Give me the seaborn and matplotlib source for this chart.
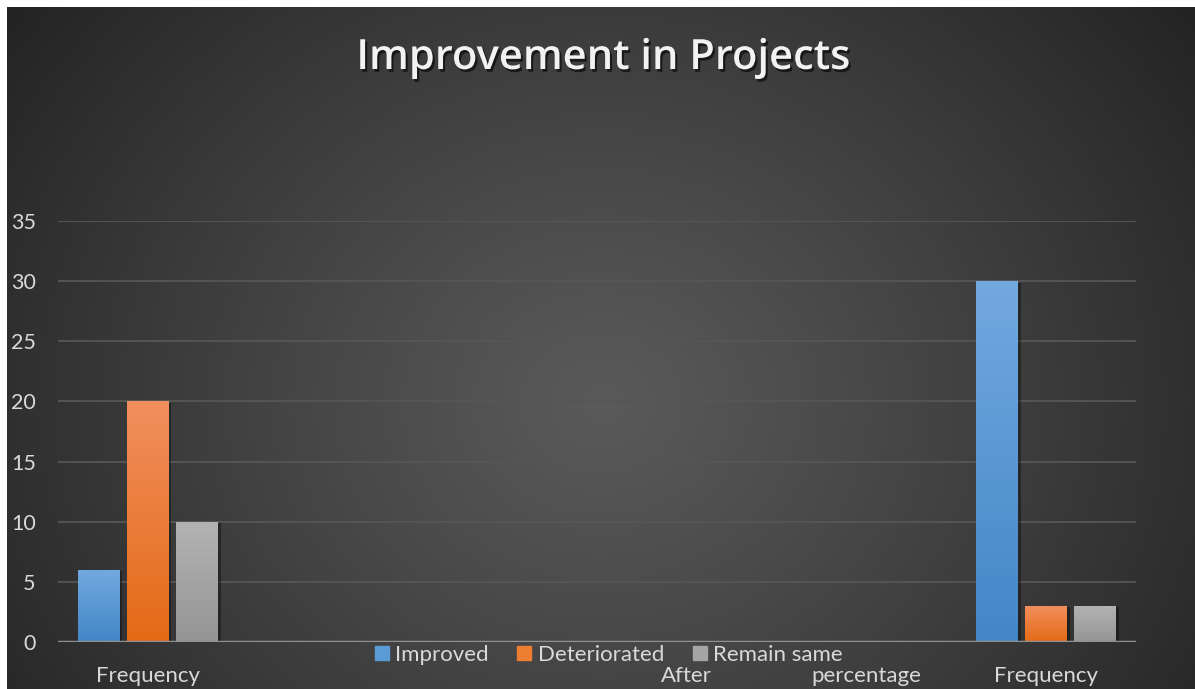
import numpy as np
import pandas as pd
import matplotlib
matplotlib.use("Agg")
import matplotlib.pyplot as plt
import seaborn as sns
from matplotlib import patheffects as pe
from matplotlib.lines import Line2D
from matplotlib.colors import LinearSegmentedColormap

# ---- data ----
tick_labels = ["Frequency", "", "", "After", "percentage", "Frequency"]
series_names = ["Improved", "Deteriorated", "Remain same"]
improved = [6, 0, 0, 0, 0, 30]
deteriorated = [20, 0, 0, 0, 0, 3]
remain_same = [10, 0, 0, 0, 0, 3]
y_ticks = [0, 5, 10, 15, 20, 25, 30, 35]
title = "Improvement in Projects"

top_colors = ["#72a9df", "#f18f5e", "#b3b3b3"]
bottom_colors = ["#4386c8", "#e46a16", "#959595"]
legend_colors = ["#5b9bd5", "#ed7d31", "#a5a5a5"]

rows = []
for name, vals in zip(series_names, [improved, deteriorated, remain_same]):
    for i, v in enumerate(vals):
        rows.append({"cat": i, "series": name, "value": v})
df = pd.DataFrame(rows)

W, H = 1195, 689
fig = plt.figure(figsize=(W / 100, H / 100), dpi=100, facecolor="white")

# background radial gradient
bg = fig.add_axes([7 / W, 0, 1 - 7 / W, 1 - 7 / H])
bg.set_axis_off()
ny, nx = 341, 594
yy, xx = np.mgrid[0:ny, 0:nx]
cx, cy = nx * 0.5, ny * 0.58
r = np.sqrt(((xx - cx) / (nx * 0.62)) ** 2 + ((yy - cy) / (ny * 0.95)) ** 2)
r = np.clip(r, 0, 1)
val = (90 - (90 - 36) * r ** 1.1) / 255.0
img = np.dstack([val, val, val])
bg.imshow(img, aspect="auto", extent=[0, 1, 0, 1], origin="upper")
bg.set_xlim(0, 1)
bg.set_ylim(0, 1)

ax = fig.add_axes([58 / W, 47 / H, 1078 / W, 421 / H])
ax.patch.set_alpha(0)

sns.barplot(data=df, x="cat", y="value", hue="series", hue_order=series_names,
            palette=legend_colors, width=0.82, gap=0.15, saturation=1,
            legend=False, ax=ax, zorder=3)

for cont, ct, cb in zip(ax.containers, top_colors, bottom_colors):
    cmap = LinearSegmentedColormap.from_list("g", [cb, ct])
    for patch in cont.patches:
        h = patch.get_height()
        if h <= 0:
            patch.set_visible(False)
            continue
        x0 = patch.get_x()
        w = patch.get_width()
        patch.set_path_effects([pe.SimplePatchShadow(offset=(2, -1), alpha=0.35,
                                                     shadow_rgbFace="black"), pe.Normal()])
        grad = np.linspace(1, 0, 100).reshape(-1, 1)
        im = ax.imshow(grad, extent=[x0, x0 + w, 0, h], aspect="auto",
                       cmap=cmap, vmin=0, vmax=1, zorder=3.5, origin="upper")
        im.set_clip_path(patch)

ax.set_xlim(-0.5, 5.5)
ax.set_ylim(0, 35)
ax.set_aspect("auto")
ax.set_yticks(y_ticks)
ax.set_xticks(range(len(tick_labels)))
ax.set_xticklabels(tick_labels)
ax.set_xlabel("")
ax.set_ylabel("")
for s in ax.spines.values():
    s.set_visible(False)
ax.yaxis.grid(True, color="#565656", linewidth=1.3, zorder=0)
ax.set_axisbelow(True)
ax.axhline(0, color="#909090", linewidth=2.5, zorder=5)
ax.tick_params(axis="both", length=0, colors="#d9d9d9")
ax.tick_params(axis="y", pad=16, labelsize=15.5)
ax.tick_params(axis="x", pad=17, labelsize=16)
for t in ax.get_xticklabels() + ax.get_yticklabels():
    t.set_family("Lato")

handles = [Line2D([], [], marker="s", linestyle="", markersize=10, color=c)
           for c in legend_colors]
leg = fig.legend(handles, series_names, loc="center", bbox_to_anchor=(609 / W, 1 - 655 / H),
                 ncol=3, frameon=False, handlelength=0.6, handletextpad=0.3,
                 columnspacing=1.3, prop={"family": "Lato", "size": 16},
                 labelcolor="#d9d9d9")

fig.text(603 / W, 1 - 58 / H, title, ha="center", va="center", fontsize=30,
         fontweight="semibold", color="#f2f2f2", family="Open Sans",
         path_effects=[pe.SimplePatchShadow(offset=(1.5, -2), alpha=0.6,
                                            shadow_rgbFace="black"), pe.Normal()])

fig.savefig("out.png", dpi=100, facecolor="white")
